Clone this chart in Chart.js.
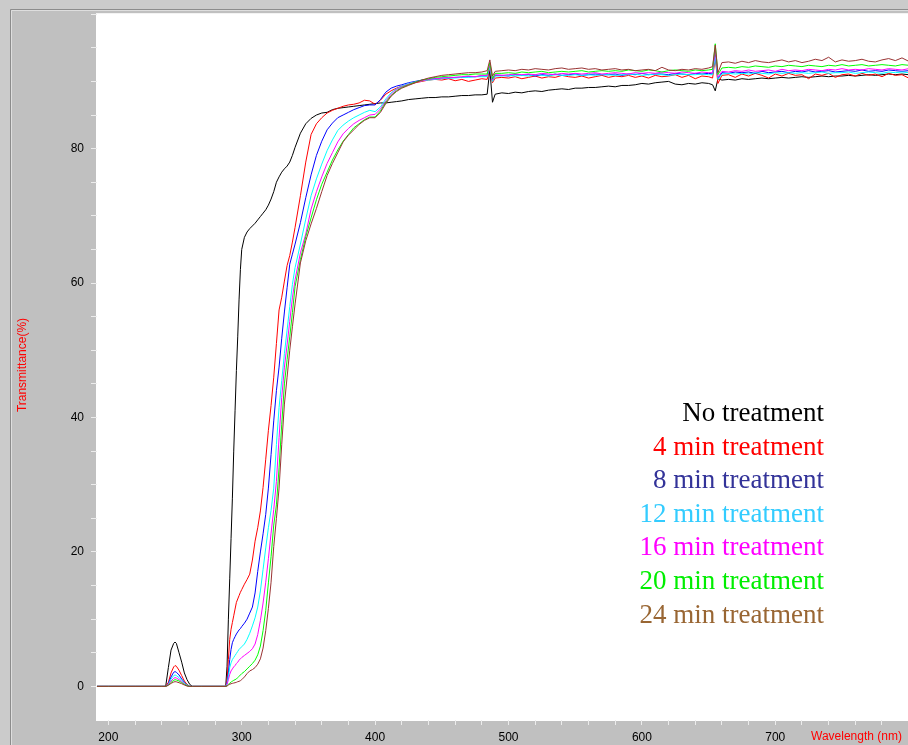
<!DOCTYPE html>
<html>
<head>
<meta charset="utf-8">
<script src="https://cdn.jsdelivr.net/npm/chart.js@4.4.1/dist/chart.umd.min.js"></script>
<style>
  html, body { margin: 0; padding: 0; background: #c0c0c0; }
  #wrap { width: 908px; height: 745px; }
</style>
</head>
<body>
<div id="wrap"><canvas id="spectra" width="908" height="745"></canvas></div>
<script>
// wavelength grid (nm), shared by every spectrum
const wavelengths = [
  190, 200, 220, 240, 243, 245, 247, 249, 250, 251, 253, 255, 257, 259, 261, 263, 270, 280, 288,
  289, 290, 291, 292, 293, 294, 295, 296, 297, 298, 299, 300,
  302, 304, 306, 308, 310, 312, 314, 316, 318, 320, 322, 324, 326, 328, 330, 332, 334, 336, 338, 340,
  344, 348, 352, 356, 360, 364, 368, 372, 376, 380, 384, 388, 392, 396, 400, 404, 408, 412, 416, 420,
  425, 430, 435, 440, 445, 450, 455, 460, 465, 470, 475, 480, 484, 486, 488, 490,
  495, 500, 505, 510, 515, 520, 525, 530, 535, 540, 545, 550, 555, 560, 565, 570,
  575, 580, 585, 590, 595, 600, 605, 610, 615, 620, 625, 630, 635, 640, 645, 650,
  653, 655, 657,
  660, 665, 670, 675, 680, 685, 690, 695, 700, 705, 710, 715, 720, 725, 730,
  735, 740, 745, 750, 755, 760, 765, 770, 775, 780, 785, 790, 795, 800
];

// transmittance (%)
const noTreatment = [
  0, 0, 0, 0, 0, 2.8, 5.4, 6.4, 6.6, 6.4, 5.0, 3.6, 2.0, 1.0, 0.3, 0, 0, 0, 0,
  3, 10, 16, 22, 28, 35, 41, 47, 52, 57.5, 62, 65,
  66.8, 67.6, 68.1, 68.5, 68.9, 69.4, 69.9, 70.4, 70.9, 71.6, 72.5, 73.6, 75.0, 75.8, 76.5, 77.0, 77.4, 78.0, 79.0, 80.2,
  82.3, 83.7, 84.5, 85.0, 85.3, 85.4, 85.8, 86.0, 86.1, 86.2, 86.3, 86.4, 86.5, 86.6, 86.7, 86.8, 86.8, 86.9, 87.0, 87.1,
  87.3, 87.4, 87.5, 87.6, 87.6, 87.7, 87.7, 87.8, 87.9, 87.9, 88.0, 88.0, 88.1, 91.8, 86.9, 88.1,
  88.3, 88.2, 88.4, 88.3, 88.5, 88.6, 88.5, 88.7, 88.8, 88.9, 88.8, 89.0, 89.0, 89.1, 89.1, 89.2,
  89.3, 89.2, 89.4, 89.4, 89.5, 89.7, 89.6, 89.8, 89.9, 90.0, 89.6, 89.5, 89.7, 89.6, 89.8, 89.7,
  89.5, 88.6, 90.4,
  90.2, 90.3, 90.2, 90.4, 90.3, 90.4, 90.5, 90.4, 90.5, 90.6, 90.5, 90.6, 90.7, 90.6, 90.7,
  90.8, 90.7, 90.8, 90.8, 90.9, 90.8, 90.9, 91.0, 90.9, 91.0, 91.1, 91.0, 91.1, 91.0
];
const min4 = [
  0, 0, 0, 0, 0, 0.6, 2.0, 2.9, 3.1, 3.0, 2.4, 1.6, 0.8, 0.3, 0, 0, 0, 0, 0,
  1, 4, 7, 8.5, 9.5, 10.5, 11.5, 12.5, 13, 13.5, 14, 14.4,
  15.2, 15.9, 16.7, 18.8, 21.6, 23.6, 26.1, 29.6, 33.8, 38.1, 41.8, 46.0, 51.0, 56.0, 57.9, 60.3, 62.6, 64.1, 66.1, 68.3,
  73.0, 78.0, 82.1, 83.7, 84.6, 85.3, 85.7, 86.0, 86.3, 86.5, 86.6, 86.8, 87.2, 87.1, 86.6, 87.2, 88.1, 88.6, 89.0, 89.3,
  89.5, 89.8, 90.0, 90.2, 90.3, 90.2, 90.4, 90.1, 90.3, 90.0, 90.2, 90.4, 90.3, 92.0, 89.8, 90.5,
  90.6, 90.5, 90.7, 90.4, 90.6, 90.8, 90.5, 90.7, 90.6, 90.9, 90.7, 90.6, 90.8, 90.5, 90.7, 90.9,
  90.6, 90.8, 90.7, 90.9, 90.6, 90.8, 90.5, 90.9, 90.7, 90.8, 91.0, 90.6, 90.9, 90.4, 90.8, 90.7,
  90.5, 93.5, 89.7,
  90.9, 91.0, 90.6, 91.1, 90.8, 91.2, 90.9, 90.5, 91.1, 90.8, 91.2, 90.9, 91.0, 90.4, 91.1,
  90.9, 91.2, 90.6, 91.0, 91.1, 90.8, 91.2, 90.9, 91.1, 90.7, 91.2, 90.9, 91.0, 90.5
];
const min8 = [
  0, 0, 0, 0, 0, 0.4, 1.4, 2.1, 2.2, 2.1, 1.7, 1.1, 0.6, 0.2, 0, 0, 0, 0, 0,
  0.5, 2, 4, 5.5, 6.5, 7, 7.4, 7.8, 8.1, 8.4, 8.6, 8.9,
  9.4, 10.0, 10.9, 11.8, 13.9, 17.1, 20.0, 22.7, 25.6, 29.5, 34.5, 39.5, 44.0, 47.5, 51.8, 55.7, 59.3, 62.8, 64.3, 65.8,
  69.0, 72.7, 76.1, 79.0, 81.1, 82.8, 83.8, 84.6, 85.0, 85.4, 85.8, 86.1, 86.4, 86.5, 86.5, 87.3, 88.4, 89.0, 89.3, 89.5,
  89.8, 90.0, 90.2, 90.3, 90.4, 90.5, 90.5, 90.6, 90.6, 90.7, 90.7, 90.8, 90.8, 92.3, 90.1, 90.9,
  90.9, 90.8, 91.0, 90.9, 91.0, 90.8, 91.0, 90.9, 91.1, 90.9, 91.0, 91.1, 90.9, 91.0, 91.1, 91.0,
  91.0, 91.1, 90.9, 91.1, 91.0, 91.2, 91.0, 91.1, 91.1, 91.0, 91.2, 91.1, 91.0, 91.2, 91.1, 91.2,
  91.1, 94.0, 90.4,
  91.3, 91.2, 91.4, 91.3, 91.4, 91.2, 91.5, 91.3, 91.4, 91.5, 91.3, 91.5, 91.4, 91.6, 91.4,
  91.5, 91.6, 91.4, 91.5, 91.6, 91.5, 91.7, 91.5, 91.6, 91.5, 91.7, 91.6, 91.5, 91.6
];
const min12 = [
  0, 0, 0, 0, 0, 0.3, 1.1, 1.6, 1.7, 1.6, 1.3, 0.9, 0.5, 0.2, 0, 0, 0, 0, 0,
  0.4, 1.5, 2.8, 3.5, 4.0, 4.3, 4.6, 4.9, 5.2, 5.5, 5.7, 5.9,
  6.3, 7.0, 7.9, 9.0, 10.2, 11.8, 14.2, 17.4, 20.6, 23.6, 26.2, 29.5, 36.0, 41.5, 45.5, 49.5, 53.0, 56.5, 59.8, 62.3,
  65.8, 69.5, 73.0, 75.5, 77.7, 79.7, 81.3, 82.7, 83.5, 84.1, 84.6, 85.0, 85.4, 85.7, 85.5, 86.2, 87.4, 88.3, 88.9, 89.3,
  89.7, 89.9, 90.1, 90.2, 90.3, 90.4, 90.5, 90.5, 90.6, 90.6, 90.7, 90.7, 90.7, 92.1, 90.0, 90.8,
  90.8, 90.9, 90.8, 90.9, 90.8, 91.0, 90.9, 90.8, 91.0, 90.9, 90.9, 91.0, 90.9, 91.0, 90.9, 91.0,
  91.0, 90.9, 91.0, 91.0, 91.1, 90.9, 91.0, 91.1, 91.0, 90.9, 91.0, 91.1, 91.0, 91.0, 91.1, 91.0,
  91.0, 93.7, 90.3,
  91.1, 91.2, 91.1, 91.2, 91.1, 91.3, 91.2, 91.1, 91.3, 91.2, 91.3, 91.2, 91.3, 91.2, 91.3,
  91.4, 91.2, 91.3, 91.3, 91.4, 91.2, 91.3, 91.4, 91.3, 91.2, 91.4, 91.3, 91.4, 91.3
];
const min16 = [
  0, 0, 0, 0, 0, 0.3, 0.8, 1.2, 1.3, 1.25, 1.0, 0.7, 0.4, 0.1, 0, 0, 0, 0, 0,
  0.3, 1.0, 1.8, 2.3, 2.6, 2.9, 3.1, 3.4, 3.6, 3.9, 4.1, 4.3,
  4.6, 4.9, 5.2, 5.6, 6.3, 7.7, 9.8, 12.4, 15.5, 19.0, 22.8, 26.3, 30.5, 37.0, 43.0, 47.5, 50.8, 54.3, 57.8, 60.5,
  64.5, 67.3, 71.0, 73.6, 75.8, 77.8, 79.4, 81.0, 82.2, 83.0, 83.7, 84.2, 84.6, 85.0, 85.1, 85.9, 87.1, 88.1, 88.8, 89.2,
  89.6, 89.9, 90.1, 90.3, 90.4, 90.5, 90.6, 90.6, 90.7, 90.8, 90.7, 90.9, 90.9, 92.4, 90.2, 91.0,
  90.9, 91.0, 91.1, 91.0, 91.1, 91.0, 91.2, 91.1, 91.0, 91.2, 91.1, 91.2, 91.1, 91.2, 91.3, 91.1,
  91.2, 91.3, 91.2, 91.1, 91.3, 91.2, 91.3, 91.2, 91.4, 91.3, 91.2, 91.4, 91.3, 91.2, 91.4, 91.3,
  91.3, 94.6, 90.6,
  91.5, 91.4, 91.6, 91.5, 91.7, 91.5, 91.6, 91.7, 91.5, 91.8, 91.6, 91.7, 91.6, 91.8, 91.7,
  91.6, 91.8, 91.7, 91.9, 91.7, 91.8, 91.7, 91.9, 91.8, 91.7, 91.9, 91.8, 91.7, 91.9
];
const min20 = [
  0, 0, 0, 0, 0, 0.2, 0.6, 0.9, 1.0, 0.95, 0.8, 0.55, 0.3, 0.1, 0, 0, 0, 0, 0,
  0.1, 0.3, 0.5, 0.6, 0.8, 0.9, 1.0, 1.1, 1.3, 1.5, 1.7, 1.9,
  2.2, 2.6, 3.0, 3.4, 3.9, 4.7, 6.0, 8.3, 11.3, 15.4, 19.3, 24.0, 27.0, 32.5, 39.0, 45.0, 48.6, 52.0, 55.6, 59.5,
  63.5, 66.9, 69.7, 72.4, 74.7, 76.5, 78.3, 79.8, 81.1, 82.1, 83.1, 83.7, 84.3, 84.7, 84.7, 85.6, 86.9, 87.9, 88.6, 89.1,
  89.5, 89.9, 90.2, 90.4, 90.6, 90.7, 90.8, 90.9, 91.0, 91.0, 91.1, 91.1, 91.1, 92.8, 90.4, 91.2,
  91.2, 91.3, 91.2, 91.4, 91.3, 91.4, 91.5, 91.3, 91.4, 91.5, 91.4, 91.5, 91.6, 91.4, 91.5, 91.6,
  91.5, 91.6, 91.5, 91.7, 91.6, 91.5, 91.7, 91.6, 91.4, 91.6, 91.7, 91.6, 91.5, 91.7, 91.6, 91.7,
  91.8, 95.6, 91.0,
  92.0, 92.1, 92.0, 92.2, 92.1, 92.3, 92.2, 92.1, 92.3, 92.2, 92.4, 92.3, 92.2, 92.4, 92.3,
  92.2, 92.4, 92.3, 92.5, 92.3, 92.4, 92.5, 92.3, 92.4, 92.5, 92.4, 92.3, 92.5, 92.4
];
const min24 = [
  0, 0, 0, 0, 0, 0.15, 0.45, 0.65, 0.7, 0.68, 0.55, 0.4, 0.2, 0.05, 0, 0, 0, 0, 0,
  0.05, 0.2, 0.3, 0.4, 0.45, 0.5, 0.55, 0.6, 0.7, 0.75, 0.85, 1.0,
  1.4, 1.9, 2.3, 2.5, 2.8, 3.3, 4.1, 5.7, 8.3, 11.6, 15.5, 20.8, 25.0, 29.5, 36.0, 42.0, 46.0, 50.0, 53.5, 56.9,
  63.0, 66.3, 68.8, 71.1, 73.6, 76.0, 77.8, 79.4, 81.0, 82.0, 82.8, 83.6, 84.2, 84.6, 84.6, 85.4, 86.7, 87.8, 88.5, 89.0,
  89.4, 89.8, 90.2, 90.5, 90.7, 90.9, 91.0, 91.1, 91.2, 91.3, 91.3, 91.4, 91.6, 93.2, 90.8, 91.5,
  91.6, 91.7, 91.6, 91.8, 91.7, 91.9, 91.8, 91.7, 91.9, 92.0, 91.8, 91.9, 92.0, 91.8, 91.9, 91.7,
  91.8, 91.9, 91.7, 91.8, 91.6, 91.7, 91.8, 91.6, 92.1, 91.7, 91.6, 91.8, 91.7, 91.9, 91.8, 92.0,
  92.2, 95.4, 91.3,
  92.8, 92.9, 92.7, 93.0, 92.8, 93.1, 92.9, 92.8, 93.0, 93.2, 92.9, 93.1, 92.8, 93.0, 93.3,
  93.1, 93.6, 92.9, 93.2, 93.0, 93.1, 93.3, 93.0, 92.9, 93.2, 93.4, 93.1, 93.5, 93.0
];

const seriesLabels = ['No treatment', '4 min treatment', '8 min treatment', '12 min treatment',
  '16 min treatment', '20 min treatment', '24 min treatment'];
const seriesValues = [noTreatment, min4, min8, min12, min16, min20, min24];
const lineColors = ['#000000', '#ff0000', '#0000ff', '#00ffff', '#ff00ff', '#00ff00', '#993333'];
const labelColors = ['#000000', '#ff0000', '#333399', '#33ccff', '#ff00ff', '#00ee00', '#996633'];

const xTickLabels = [200, 300, 400, 500, 600, 700];
const yTickLabels = [0, 20, 40, 60, 80];

// minor tick marks every 20 nm and every 5 %
const stepTicks = (from, to, step) => {
  const out = [];
  for (let v = from; v <= to; v += step) out.push({ value: v });
  return out;
};

const datasets = seriesValues.map((vals, i) => ({
  label: seriesLabels[i],
  data: wavelengths.map((w, k) => ({ x: w, y: vals[k] })),
  borderColor: lineColors[i],
  borderWidth: 1,
  pointRadius: 0,
  tension: 0,
  fill: false,
  order: seriesValues.length - i,
}));

// grey panel, white plot area, axis titles and the coloured key
const panel = {
  id: 'panel',
  beforeDraw(chart) {
    const { ctx, chartArea: a, width, height } = chart;
    ctx.save();
    ctx.fillStyle = '#c0c0c0';
    ctx.fillRect(0, 0, width, height);
    ctx.fillStyle = '#cbcbcb';
    ctx.fillRect(0, 0, width, 9);
    ctx.fillRect(0, 0, 10, height);
    ctx.lineWidth = 1;
    ctx.strokeStyle = '#8c8c8c';
    ctx.beginPath();
    ctx.moveTo(10.5, height); ctx.lineTo(10.5, 9.5); ctx.lineTo(width, 9.5);
    ctx.stroke();
    ctx.strokeStyle = '#dedede';
    ctx.beginPath();
    ctx.moveTo(11.5, height); ctx.lineTo(11.5, 10.5); ctx.lineTo(width, 10.5);
    ctx.stroke();
    ctx.fillStyle = '#ffffff';
    ctx.fillRect(a.left - 1, a.top - 1, a.right - a.left + 1, a.bottom - a.top + 2);
    ctx.restore();
  },
  afterDraw(chart) {
    const { ctx } = chart;
    ctx.save();
    ctx.fillStyle = '#ff0000';
    ctx.font = '12px "Liberation Sans", Arial, sans-serif';
    ctx.textBaseline = 'middle';
    ctx.textAlign = 'left';
    ctx.fillText('Wavelength (nm)', 811, 737);
    ctx.translate(23, 365);
    ctx.rotate(-Math.PI / 2);
    ctx.textAlign = 'center';
    ctx.fillText('Transmittance(%)', 0, 0);
    ctx.restore();

    ctx.save();
    ctx.font = '27px "Liberation Serif", "Times New Roman", serif';
    ctx.textAlign = 'right';
    ctx.textBaseline = 'alphabetic';
    seriesLabels.forEach((t, i) => {
      ctx.fillStyle = labelColors[i];
      ctx.fillText(t, 824, 421 + i * 33.6);
    });
    ctx.restore();
  }
};

new Chart(document.getElementById('spectra'), {
  type: 'line',
  data: { datasets },
  plugins: [panel],
  options: {
    responsive: false,
    animation: false,
    events: [],
    layout: { padding: { top: 12, left: 0, right: 0, bottom: 0 } },
    plugins: { legend: { display: false }, tooltip: { enabled: false } },
    scales: {
      x: {
        type: 'linear',
        min: 191.5,
        max: 799.5,
        afterFit: (s) => { s.height = 25; },
        afterBuildTicks: (s) => { s.ticks = stepTicks(200, 780, 20); },
        grid: { drawOnChartArea: false, drawTicks: true, tickLength: 5, tickColor: '#ececec' },
        border: { display: false },
        ticks: {
          autoSkip: false,
          maxRotation: 0,
          padding: 5,
          color: '#000',
          font: { family: '"Liberation Sans", Arial, sans-serif', size: 12 },
          callback: (v) => (xTickLabels.includes(v) ? String(v) : ''),
        },
      },
      y: {
        min: -5,
        max: 100,
        afterFit: (s) => { s.width = 97; },
        afterBuildTicks: (s) => { s.ticks = stepTicks(0, 100, 5); },
        grid: { drawOnChartArea: false, drawTicks: true, tickLength: 6, tickColor: '#ececec' },
        border: { display: false },
        ticks: {
          autoSkip: false,
          padding: 7,
          color: '#000',
          font: { family: '"Liberation Sans", Arial, sans-serif', size: 12 },
          callback: (v) => (yTickLabels.includes(v) ? String(v) : ''),
        },
      },
    },
  },
});
</script>
</body>
</html>
